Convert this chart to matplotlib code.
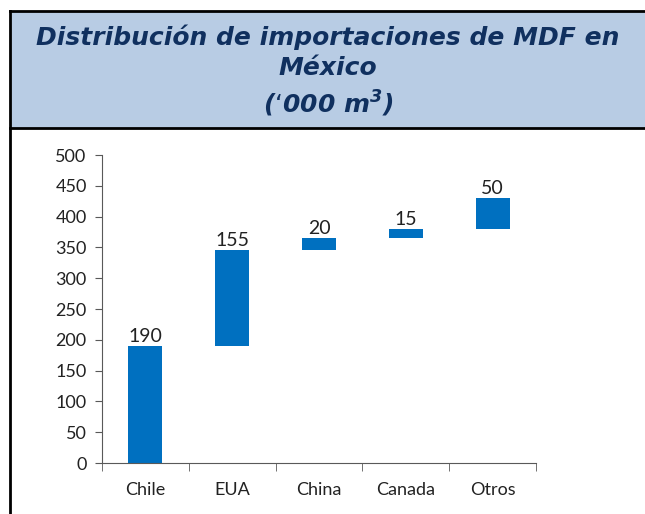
import matplotlib.pyplot as plt
from matplotlib.patches import Rectangle
from matplotlib.lines import Line2D

# ----------------------------
# Data
# ----------------------------
categories = ["Chile", "EUA", "China", "Canada", "Otros"]
values = [190, 155, 20, 15, 50]
yticks = [0, 50, 100, 150, 200, 250, 300, 350, 400, 450, 500]

# running base for the waterfall
bases = []
total = 0
for v in values:
    bases.append(total)
    total += v

bar_color = "#0070C0"
title_color = "#10305F"
title_bg = "#B8CCE4"

fig = plt.figure(figsize=(6.45, 5.14), dpi=100)

# ----------------------------
# Title box and frame
# ----------------------------
fig.patches.append(Rectangle((10 / 645, 1 - 128 / 514), 1, 117 / 514,
                             transform=fig.transFigure, facecolor=title_bg,
                             edgecolor="none", zorder=0))
fig.lines.append(Line2D([10 / 645, 1], [1 - 11 / 514] * 2, transform=fig.transFigure,
                        color="black", lw=2))
fig.lines.append(Line2D([10 / 645, 1], [1 - 128 / 514] * 2, transform=fig.transFigure,
                        color="black", lw=2))
fig.lines.append(Line2D([10 / 645] * 2, [0, 1 - 11 / 514], transform=fig.transFigure,
                        color="black", lw=2))

title_kw = dict(ha="center", va="center", color=title_color, fontsize=18,
                fontweight="bold", fontstyle="italic", family="DejaVu Sans")
fig.text(328 / 645, 1 - 37 / 514, "Distribución de importaciones de MDF en", **title_kw)
fig.text(328 / 645, 1 - 68 / 514, "México", **title_kw)
fig.text(328 / 645, 1 - 104 / 514, "(\u2018000 m$^{\\mathbfit{3}}$)", **title_kw)

# ----------------------------
# Waterfall chart
# ----------------------------
ax = fig.add_axes([102 / 645, 1 - 463 / 514, 434 / 645, 308 / 514])
x = range(len(categories))
ax.bar(x, values, bottom=bases, width=0.39, color=bar_color)

for i, (b, v) in enumerate(zip(bases, values)):
    ax.text(i, b + v + 2, str(v), ha="center", va="bottom",
            fontsize=14, family="Lato", color="#222222")

ax.set_xlim(-0.5, len(categories) - 0.5)
ax.set_ylim(0, 500)
ax.set_yticks(yticks)
ax.set_yticklabels([str(t) for t in yticks], family="Lato", fontsize=13, color="#222222")
ax.set_xticks(list(x))
ax.set_xticklabels(categories, family="Lato", fontsize=13, color="#222222")
ax.set_xticks([i - 0.5 for i in range(len(categories) + 1)], minor=True)

ax.tick_params(axis="x", which="major", length=0, pad=14)
ax.tick_params(axis="x", which="minor", length=6, direction="out", color="#595959")
ax.tick_params(axis="y", length=5, direction="out", color="#595959", pad=6)

for s in ["top", "right"]:
    ax.spines[s].set_visible(False)
for s in ["left", "bottom"]:
    ax.spines[s].set_color("#595959")

fig.savefig("out.png", dpi=100)
